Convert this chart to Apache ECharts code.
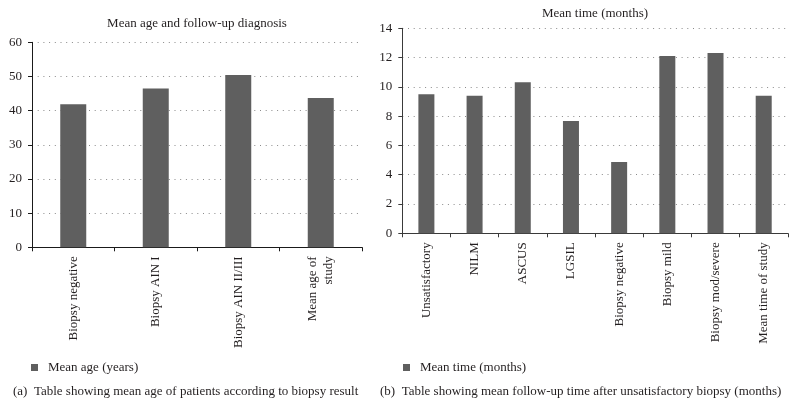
<!DOCTYPE html>
<html><head><meta charset="utf-8">
<script src="https://cdn.jsdelivr.net/npm/echarts@6/dist/echarts.min.js"></script>
<style>html,body{margin:0;padding:0;background:#fff}#c{width:796px;height:419px}</style>
</head><body><div id="c"></div>
<script>
const ageCategories = ['Biopsy negative', 'Biopsy AIN I', 'Biopsy AIN II/III', 'Mean age of\nstudy'];
const ageValues = [41.9, 46.5, 50.4, 43.7];
const ageTicks = {min: 0, max: 60, interval: 10};
const timeCategories = ['Unsatisfactory', 'NILM', 'ASCUS', 'LGSIL', 'Biopsy negative', 'Biopsy mild', 'Biopsy mod/severe', 'Mean time of study'];
const timeValues = [9.49, 9.40, 10.31, 7.67, 4.87, 12.11, 12.32, 9.40];
const timeTicks = {min: 0, max: 14, interval: 2};
const ageSeriesName = 'Mean age (years)';
const timeSeriesName = 'Mean time (months)';
const titleA = 'Mean age and follow-up diagnosis';
const titleB = 'Mean time (months)';
const captionA = '(a)  Table showing mean age of patients according to biopsy result';
const captionB = '(b)  Table showing mean follow-up time after unsatisfactory biopsy (months)';

const FONT = 'Liberation Serif';
const TXT = '#231f20';
const BAR = '#5f5f5f';

const chart = echarts.init(document.getElementById('c'), null, {renderer: 'canvas'});

function yAxis(idx, t, axisColor) {
  return {
    type: 'value', gridIndex: idx, min: t.min, max: t.max, interval: t.interval,
    axisLine: {show: true, lineStyle: {color: axisColor, width: 1}},
    axisTick: {show: true, length: 4, lineStyle: {color: axisColor}},
    axisLabel: {margin: 10, color: TXT, fontFamily: FONT, fontSize: 13},
    splitLine: {show: true, lineStyle: {color: '#8a8a8a', type: [1, 4.7], width: 1}}
  };
}
function xAxis(idx, cats, axisColor) {
  return {
    type: 'category', gridIndex: idx, data: cats,
    axisLine: {show: true, lineStyle: {color: axisColor, width: 1}},
    axisTick: {show: true, length: 4, alignWithLabel: false, lineStyle: {color: axisColor}},
    axisLabel: {rotate: 90, margin: 9, color: TXT, fontFamily: FONT, fontSize: 13, lineHeight: 16, interval: 0},
    splitLine: {show: false}
  };
}

chart.setOption({
  animation: false,
  backgroundColor: '#fff',
  grid: [
    {left: 32, top: 42.3, width: 330, height: 205, containLabel: false},
    {left: 402.3, top: 28.3, width: 385.5, height: 205, containLabel: false}
  ],
  xAxis: [xAxis(0, ageCategories, '#1a1a1a'), xAxis(1, timeCategories, '#3a3a3a')],
  yAxis: [yAxis(0, ageTicks, '#1a1a1a'), yAxis(1, timeTicks, '#3a3a3a')],
  legend: [
    {data: [ageSeriesName], left: 31, top: 361, padding: 0, icon: 'rect', itemWidth: 7, itemHeight: 7, itemGap: 10,
     textStyle: {color: TXT, fontFamily: FONT, fontSize: 13, padding: [0, 0, 0, 5]}},
    {data: [timeSeriesName], left: 403, top: 361, padding: 0, icon: 'rect', itemWidth: 7, itemHeight: 7, itemGap: 10,
     textStyle: {color: TXT, fontFamily: FONT, fontSize: 13, padding: [0, 0, 0, 5]}}
  ],
  series: [
    {name: ageSeriesName, type: 'bar', xAxisIndex: 0, yAxisIndex: 0, data: ageValues, barWidth: 26,
     itemStyle: {color: BAR}},
    {name: timeSeriesName, type: 'bar', xAxisIndex: 1, yAxisIndex: 1, data: timeValues, barWidth: 16,
     itemStyle: {color: BAR}}
  ],
  graphic: [
    {type: 'text', x: 197, y: 24, style: {text: titleA, fill: TXT, font: '13px "Liberation Serif"', textAlign: 'center', textVerticalAlign: 'middle'}},
    {type: 'text', x: 595, y: 13.5, style: {text: titleB, fill: TXT, font: '13px "Liberation Serif"', textAlign: 'center', textVerticalAlign: 'middle'}},
    {type: 'text', x: 13, y: 391.5, style: {text: captionA, fill: TXT, font: '13px "Liberation Serif"', textAlign: 'left', textVerticalAlign: 'middle'}},
    {type: 'text', x: 380, y: 391.5, style: {text: captionB, fill: TXT, font: '13px "Liberation Serif"', textAlign: 'left', textVerticalAlign: 'middle'}}
  ]
});
</script></body></html>
